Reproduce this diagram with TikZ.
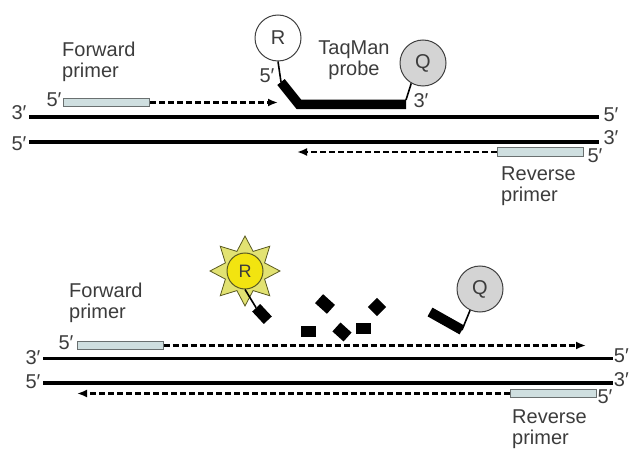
\documentclass[tikz,border=0pt]{standalone}
\usepackage{fontspec}
\setmainfont{Liberation Sans}
\usetikzlibrary{arrows.meta,shapes.geometric}
\definecolor{txtgray}{HTML}{3C3C3C}
\definecolor{primerfill}{HTML}{CFDFE0}
\definecolor{primerline}{HTML}{6A7070}
\definecolor{qgray}{HTML}{D4D4D4}
\definecolor{circline}{HTML}{404040}
\definecolor{sunyellow}{HTML}{F2E410}
\definecolor{spikeyellow}{HTML}{E2E272}
\definecolor{sunline}{HTML}{5A5A20}
\tikzset{
  lbl/.style={font=\fontsize{20}{21}\selectfont, text=txtgray, inner sep=0pt},
  multilbl/.style={lbl, align=left, anchor=north west},
  strand/.style={line width=3.5pt, black},
  primer/.style={draw=primerline, fill=primerfill, line width=1pt, inner sep=0pt, minimum width=86pt, minimum height=8.5pt},
  ext/.style={line width=2.4pt, dash pattern=on 6pt off 3pt, -{Latex[length=10pt,width=8pt]}},
  dye/.style={circle, draw=circline, line width=1pt, minimum size=46pt, inner sep=0pt, font=\fontsize{20}{20}\selectfont, text=txtgray},
  link/.style={line width=1.6pt, black},
  probe/.style={line width=9.5pt, black, line join=miter},
  frag/.style={fill=black, inner sep=0pt, minimum width=15pt, minimum height=11pt}
}
\begin{document}
\begin{tikzpicture}[x=1pt,y=-1pt]
\useasboundingbox (0,0) rectangle (629,449);

% ---------------- top panel ----------------
\node[multilbl] (fwd1) at (62,42) {Forward\\primer};
\node[multilbl] (rev1) at (501,167) {Reverse\\primer};
\node[lbl, align=center, anchor=north] (taq) at (354,41) {TaqMan\\probe};

\node[lbl] (t3L) at (19,113) {3′};
\node[lbl] (t5L) at (19,144) {5′};
\node[lbl] (t5R) at (611,115) {5′};
\node[lbl] (t3R) at (611,138) {3′};
\coordinate (ta1) at (29,117);
\coordinate (ta2) at (599,117);
\coordinate (tb1) at (29,142);
\coordinate (tb2) at (599,142);
\draw[strand] (ta1) -- (ta2);
\draw[strand] (tb1) -- (tb2);

\node[primer] (fp1) at (106.5,102.5) {};
\node[lbl] (fp1lab) at (54,100) {5′};
\coordinate (fp1end) at (278,102.5);
\draw[ext] (fp1.east) -- (fp1end);

\node[primer] (rp1) at (540,152) {};
\node[lbl] (rp1lab) at (595,156) {5′};
\coordinate (rp1end) at (297,152);
\draw[ext] (rp1.west) -- (rp1end);

\node[dye, fill=white] (R1) at (278,38) {R};
\node[dye, fill=qgray] (Q1) at (423,63) {Q};
\coordinate (pr0) at (281,82);
\coordinate (pr1) at (299,104.5);
\coordinate (pr2) at (406,104.5);
\coordinate (pr3) at (406,100);
\draw[link] (R1.south) -- (pr0);
\draw[probe] (pr0) -- (pr1) -- (pr2);
\draw[link] (pr3) -- (Q1.240);
\node[lbl] (p5) at (267,76) {5′};
\node[lbl] (p3) at (421,101) {3′};

% ---------------- bottom panel ----------------
\node[multilbl] (fwd2) at (69,283) {Forward\\primer};
\node[multilbl] (rev2) at (512,410) {Reverse\\primer};

\node[lbl] (b3L) at (33,358) {3′};
\node[lbl] (b5L) at (33,382) {5′};
\node[lbl, anchor=east] (b5R) at (629,356) {5′};
\node[lbl, anchor=east] (b3R) at (629,380) {3′};
\coordinate (ba1) at (43,358.5);
\coordinate (ba2) at (613,358.5);
\coordinate (bb1) at (43,383);
\coordinate (bb2) at (613,383);
\draw[strand] (ba1) -- (ba2);
\draw[strand] (bb1) -- (bb2);

\node[primer] (fp2) at (120,345.5) {};
\node[lbl] (fp2lab) at (66,343) {5′};
\coordinate (fp2end) at (586,345.5);
\draw[ext] (fp2.east) -- (fp2end);

\node[primer] (rp2) at (553,393.5) {};
\node[lbl] (rp2lab) at (605,397) {5′};
\coordinate (rp2end) at (77,393.5);
\draw[ext] (rp2.west) -- (rp2end);

% released reporter
\node[star, star points=8, star point ratio=1.65, minimum size=70pt, inner sep=0pt,
      draw=sunline, line width=0.8pt, fill=spikeyellow] (sun) at (245,271) {};
\node[dye, minimum size=36pt, draw=sunline, fill=sunyellow, font=\fontsize{18}{18}\selectfont] (R2) at (245,271) {R};
\node[frag, minimum width=17pt, rotate=-47] (rblock) at (262,314) {};
\draw[link] (R2.south) -- (rblock.west);

% cleaved probe fragments
\node[frag] (f1) at (308,331) {};
\node[frag, minimum width=16pt, minimum height=12pt, rotate=-42] (f2) at (325,304) {};
\node[frag, minimum width=15pt, minimum height=12pt, rotate=-42] (f3) at (342,332) {};
\node[frag] (f4) at (363,328) {};
\node[frag, minimum width=13pt, minimum height=13pt, rotate=-45] (f5) at (377,307) {};

% released quencher
\node[dye, fill=qgray] (Q2) at (480,289) {Q};
\coordinate (qb1) at (430,312);
\coordinate (qb2) at (462,330);
\draw[line width=10pt, black] (qb1) -- (qb2);
\draw[link] (qb2) -- (Q2.245);
\end{tikzpicture}
\end{document}
